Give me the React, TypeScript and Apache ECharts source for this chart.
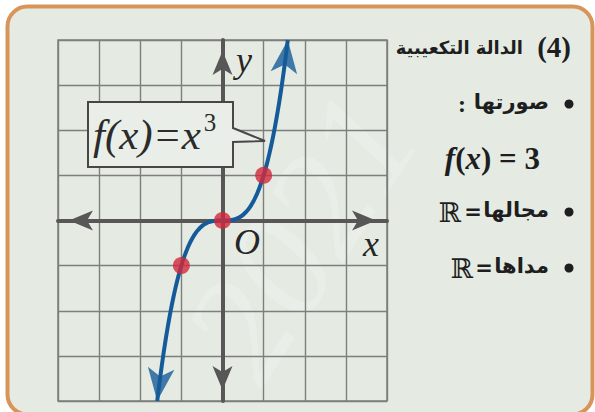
import React, { useEffect, useRef } from "react";
import * as echarts from "echarts";

// Axis range and grid step of the coordinate plane
const axisMin = -4;
const axisMax = 4;
const gridStep = 1;

// Highlighted points on f(x) = x^3
const keyPointsX = [-1, 0, 1];
const keyPointsY = [-1, 0, 1];

// x-values at which the curve f(x) = x^3 is sampled (it leaves the plane at y = ±4)
const curveXs = [
  -1.5874, -1.56, -1.52, -1.48, -1.44, -1.4, -1.35, -1.3, -1.25, -1.2, -1.15, -1.1, -1.05, -1,
  -0.95, -0.9, -0.85, -0.8, -0.75, -0.7, -0.65, -0.6, -0.5, -0.4, -0.3, -0.2, -0.1, 0,
  0.1, 0.2, 0.3, 0.4, 0.5, 0.6, 0.65, 0.7, 0.75, 0.8, 0.85, 0.9, 0.95, 1,
  1.05, 1.1, 1.15, 1.2, 1.25, 1.3, 1.35, 1.4, 1.44, 1.48, 1.52, 1.56, 1.5874,
];
// ends of the curve, where the arrowheads are drawn
const arrowXs = [1.5874, -1.5874];
const arrowRotations = [-6.8, 173.2];
const cube = (x: number) => x * x * x;

// Text of the side panel
const headingText = "الدالة التكعيبية";
const headingNumber = "(4)";
const formLabel = "صورتها";
const domainLabel = "مجالها";
const rangeLabel = "مداها";

export default function App() {
  const ref = useRef<HTMLDivElement>(null);

  useEffect(() => {
    if (!ref.current) return;
    const chart = echarts.init(ref.current, null, { renderer: "svg" });

    const curve = curveXs.map((x) => [x, cube(x)]);
    const points = keyPointsX.map((x, i) => [x, keyPointsY[i]]);
    const arrows = arrowXs.map((x, i) => ({
      value: [x, cube(x)],
      symbolRotate: arrowRotations[i],
    }));

    const gridColor = "#7c807c";
    const axisColor = "#575757";
    const blue = "#165b99";
    const ink = "#1e1e1e";
    const serif = '"Liberation Serif", "DejaVu Serif", serif';
    const arabic = '"DejaVu Sans", "Noto Sans", sans-serif';

    const txt = (
      text: string,
      x: number,
      y: number,
      font: string,
      align: string,
      extra: Record<string, unknown> = {}
    ) => ({
      type: "text",
      z: 101,
      style: {
        text,
        x,
        y,
        font,
        fill: ink,
        textAlign: align,
        textVerticalAlign: "middle",
        ...extra,
      },
    });

    chart.setOption({
      animation: false,
      backgroundColor: "#ffffff",
      grid: {
        left: 58,
        right: 208,
        top: 40,
        bottom: 11,
        show: true,
        borderColor: gridColor,
        borderWidth: 1.5,
        backgroundColor: "transparent",
      },
      xAxis: {
        type: "value",
        min: axisMin,
        max: axisMax,
        interval: gridStep,
        axisLabel: { show: false },
        axisTick: { show: false },
        splitLine: { lineStyle: { color: gridColor, width: 1.4 } },
        axisLine: {
          onZero: true,
          lineStyle: { color: axisColor, width: 4 },
          symbol: ["arrow", "arrow"],
          symbolSize: [15, 24],
          symbolOffset: [11, -11],
        },
      },
      yAxis: {
        type: "value",
        min: axisMin,
        max: axisMax,
        interval: gridStep,
        axisLabel: { show: false },
        axisTick: { show: false },
        splitLine: { lineStyle: { color: gridColor, width: 1.4 } },
        axisLine: {
          onZero: true,
          lineStyle: { color: axisColor, width: 4 },
          symbol: ["arrow", "arrow"],
          symbolSize: [15, 24],
          symbolOffset: [11, -11],
        },
      },
      series: [
        {
          type: "line",
          data: curve,
          smooth: true,
          showSymbol: false,
          lineStyle: { color: blue, width: 4 },
          z: 3,
        },
        {
          type: "scatter",
          data: arrows,
          symbol: "arrow",
          symbolSize: [20, 33],
          itemStyle: { color: blue },
          z: 4,
        },
        {
          type: "scatter",
          data: points,
          symbolSize: 17,
          itemStyle: { color: "#d2283b" },
          z: 5,
        },
      ],
      graphic: [
        {
          type: "rect",
          z: -100,
          silent: true,
          shape: { x: 7.5, y: 6.5, width: 585, height: 408, r: 20 },
          style: { fill: "#e5ebe3", stroke: "#d8955a", lineWidth: 4 },
        },
        {
          type: "text",
          z: -90,
          silent: true,
          x: 300,
          y: 235,
          rotation: 1.0,
          style: {
            text: "2021",
            font: `italic 150px ${serif}`,
            fill: "rgba(255,255,255,0.18)",
            textAlign: "center",
            textVerticalAlign: "middle",
          },
        },
        // Callout with the function rule
        {
          type: "polygon",
          z: 100,
          shape: {
            points: [
              [88, 102],
              [233, 102],
              [233, 128],
              [265, 141],
              [233, 142],
              [233, 167],
              [88, 167],
            ],
          },
          style: { fill: "#e9eee8", stroke: "#474747", lineWidth: 2 },
        },
        txt("{m|f(x)=x}{s|3}", 93, 134, `italic 43px ${serif}`, "left", {
          fill: "#2b2b2b",
          rich: {
            m: { font: `italic 43px ${serif}`, fill: "#2b2b2b" },
            s: { font: `25px ${serif}`, fill: "#2b2b2b", padding: [0, 0, 24, 3] },
          },
        }),
        // Axis names
        txt("y", 244, 60, `italic 36px ${serif}`, "center", { fill: "#262626" }),
        txt("x", 371, 244, `italic 36px ${serif}`, "center", { fill: "#262626" }),
        txt("O", 247, 242, `italic 36px ${serif}`, "center", { fill: "#262626" }),
        // Side panel
        txt(headingNumber, 571, 47, `bold 29px ${serif}`, "right"),
        txt(headingText, 523, 47, `bold 18px ${arabic}`, "right"),
        { type: "circle", shape: { cx: 569, cy: 104, r: 4.5 }, style: { fill: ink } },
        txt(formLabel, 549, 102, `bold 21px ${arabic}`, "right"),
        txt(":", 462, 104, `bold 24px ${serif}`, "center"),
        txt("{i|f}{n|(}{i|x}{n|) = 3}", 540, 158, `bold 31px ${serif}`, "right", {
          rich: {
            i: { font: `italic bold 31px ${serif}`, fill: ink },
            n: { font: `bold 31px ${serif}`, fill: ink },
          },
        }),
        { type: "circle", shape: { cx: 569, cy: 212, r: 4.5 }, style: { fill: ink } },
        txt(domainLabel, 549, 210, `bold 21px ${arabic}`, "right"),
        txt("=", 473, 212, `bold 21px ${arabic}`, "center"),
        txt("ℝ", 450, 212, `27px "DejaVu Serif", serif`, "center"),
        { type: "circle", shape: { cx: 569, cy: 268, r: 4.5 }, style: { fill: ink } },
        txt(rangeLabel, 549, 266, `bold 21px ${arabic}`, "right"),
        txt("=", 484, 268, `bold 21px ${arabic}`, "center"),
        txt("ℝ", 462, 268, `27px "DejaVu Serif", serif`, "center"),
      ],
    });

    return () => chart.dispose();
  }, []);

  return (
    <div
      ref={ref}
      style={{ position: "fixed", left: 0, top: 0, width: 595, height: 412 }}
    />
  );
}
